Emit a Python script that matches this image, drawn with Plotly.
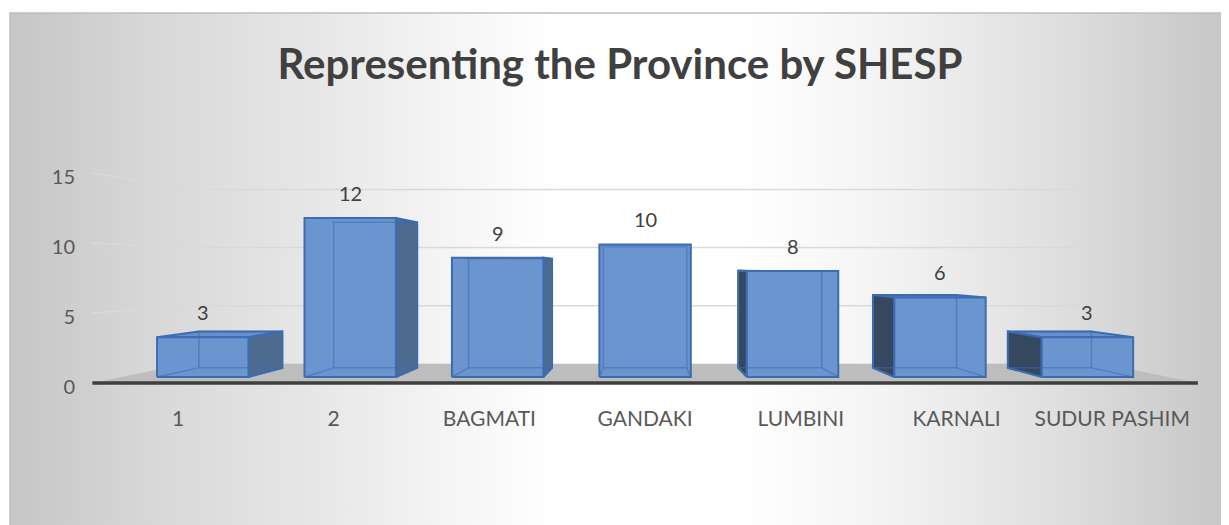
import plotly.graph_objects as go

provinces = ['1', '2', 'BAGMATI', 'GANDAKI', 'LUMBINI', 'KARNALI', 'SUDUR PASHIM']
counts = [3, 12, 9, 10, 8, 6, 3]
y_ticks = [0, 5, 10, 15]

# fake 3d: everything is projected toward a vanishing point
VX, VY = 3.0, 8.07
KF, KB, KW = 0.053, 0.134, 0.17   # bar front, bar back, back wall depth
HW = 0.31                         # half bar width
XL, XR = -0.55, 6.55              # floor ends


def proj(x, y, k):
    return x + k * (VX - x), y + k * (VY - y)


def poly(pts, k):
    xs, ys = [], []
    for p in pts:
        px, py = proj(p[0], p[1], k if len(p) == 2 else p[2])
        xs.append(px)
        ys.append(py)
    return xs, ys


fig = go.Figure()

# background gradient (own axes under the chart)
bg_scale = [[0, '#c6c6c6'], [0.12, '#d8d8d8'], [0.25, '#e7e7e7'], [0.37, '#f6f6f6'],
            [0.45, '#ffffff'], [0.6, '#ffffff'], [0.72, '#f3f3f3'], [0.87, '#dddddd'], [1, '#c6c6c6']]
fig.add_trace(go.Scatter(x=[0, 1, 1, 0, 0], y=[0, 0, 1, 1, 0], fill='toself',
                         mode='none', xaxis='x', yaxis='y', hoverinfo='skip',
                         fillgradient=dict(type='horizontal', colorscale=bg_scale)))

# floor
fx, fy = poly([(XL, 0, 0), (XR, 0, 0), (XR, 0, KW), (XL, 0, KW), (XL, 0, 0)], 0)
fig.add_trace(go.Scatter(x=fx, y=fy, fill='toself', fillcolor='#bdbdbd', mode='none',
                         xaxis='x2', yaxis='y2', hoverinfo='skip'))

# gridlines on back wall and left wall
for v in y_ticks[1:]:
    gx, gy = poly([(XL, v, 0), (XL, v, KW), (XR, v, KW)], 0)
    fig.add_trace(go.Scatter(x=gx, y=gy, mode='lines', line=dict(color='#d9d9d9', width=1.5),
                             xaxis='x2', yaxis='y2', hoverinfo='skip'))

# floor front edge
ex, ey = poly([(XL, 0, 0), (XR, 0, 0)], 0)
fig.add_trace(go.Scatter(x=ex, y=ey, mode='lines', line=dict(color='#3f3f3f', width=3.5),
                         xaxis='x2', yaxis='y2', hoverinfo='skip'))

edge = '#3c6cb1'
for i, v in enumerate(counts):
    l, r = i - HW, i + HW
    # top face
    if v < VY:
        tx, ty = poly([(l, v, KF), (r, v, KF), (r, v, KB), (l, v, KB), (l, v, KF)], 0)
        fig.add_trace(go.Scatter(x=tx, y=ty, fill='toself', fillcolor='#6890c8', mode='lines',
                                 line=dict(color=edge, width=2), xaxis='x2', yaxis='y2', hoverinfo='skip'))
    # side face
    if i != 3:
        sx = r if i < 3 else l
        col = '#4d6b8e' if i < 3 else '#36485f'
        px, py = poly([(sx, 0, KF), (sx, 0, KB), (sx, v, KB), (sx, v, KF), (sx, 0, KF)], 0)
        fig.add_trace(go.Scatter(x=px, y=py, fill='toself', fillcolor=col, mode='lines',
                                 line=dict(color=edge, width=2), xaxis='x2', yaxis='y2', hoverinfo='skip'))
    # front face
    bx, by = poly([(l, 0), (r, 0), (r, v), (l, v), (l, 0)], KF)
    fig.add_trace(go.Scatter(x=bx, y=by, fill='toself', fillcolor='#6a95cf', mode='lines',
                             line=dict(color=edge, width=2), xaxis='x2', yaxis='y2', hoverinfo='skip'))
    # back edges seen through the face
    bk = [(l, 0, KB), (r, 0, KB), (r, v, KB), (l, v, KB), (l, 0, KB), (None, None, 0),
          (l, 0, KF), (l, 0, KB), (None, None, 0), (r, 0, KF), (r, 0, KB)]
    kx, ky = [], []
    for p in bk:
        if p[0] is None:
            kx.append(None)
            ky.append(None)
        else:
            a, b = proj(*p)
            kx.append(a)
            ky.append(b)
    fig.add_trace(go.Scatter(x=kx, y=ky, mode='lines', line=dict(color='rgba(60,108,177,0.55)', width=1.5),
                             xaxis='x2', yaxis='y2', hoverinfo='skip'))

# value labels
for i, v in enumerate(counts):
    ax, ay = proj(i, v, KF)
    fig.add_annotation(x=ax, y=ay, xref='x2', yref='y2', text=str(v), showarrow=False,
                       yshift=25, font=dict(family='Lato', size=20, color='#404040'))

# page body has an 8px margin, so the figure is drawn 8px in from the window corner
O = 8
W, H = 1229 - O, 525 - O
fig.update_layout(
    width=W, height=H,
    margin=dict(l=0, r=0, t=0, b=0),
    paper_bgcolor='white',
    plot_bgcolor='rgba(0,0,0,0)',
    showlegend=False,
    hovermode=False,
    title=dict(text='<b>Representing the Province by SHESP</b>', x=(620 - O) / W, y=1 - (64 - O) / H,
               xanchor='center', yanchor='middle',
               font=dict(family='Lato', size=42, color='#404040')),
    xaxis=dict(domain=[(10 - O) / W, 1], range=[0, 1], visible=False, fixedrange=True),
    yaxis=dict(domain=[0, 1 - (13 - O) / H], range=[0, 1], visible=False, fixedrange=True),
    xaxis2=dict(domain=[(76 - O) / W, 1], range=[(76 - 178) / 155.7, (1229 - 178) / 155.7],
                anchor='y2', tickvals=list(range(len(provinces))), ticktext=provinces,
                showgrid=False, zeroline=False, showline=False, ticks='',
                tickfont=dict(family='Lato', size=21, color='#595959')),
    yaxis2=dict(domain=[1 - (404 - O) / H, 1 - (100 - O) / H], range=[(383 - 404) / 14, (383 - 100) / 14],
                anchor='x2', tickvals=y_ticks, ticktext=[str(t) for t in y_ticks],
                showgrid=False, zeroline=False, showline=False, ticks='', ticklabelshift=4,
                tickfont=dict(family='Lato', size=20, color='#595959')),
    shapes=[dict(type='rect', xref='paper', yref='paper', x0=(10 - O) / W, x1=1.01, y0=-0.01, y1=1 - (13 - O) / H,
                 line=dict(color='#bfbfbf', width=1.5), layer='above')],
)

fig.write_html('out.html')
